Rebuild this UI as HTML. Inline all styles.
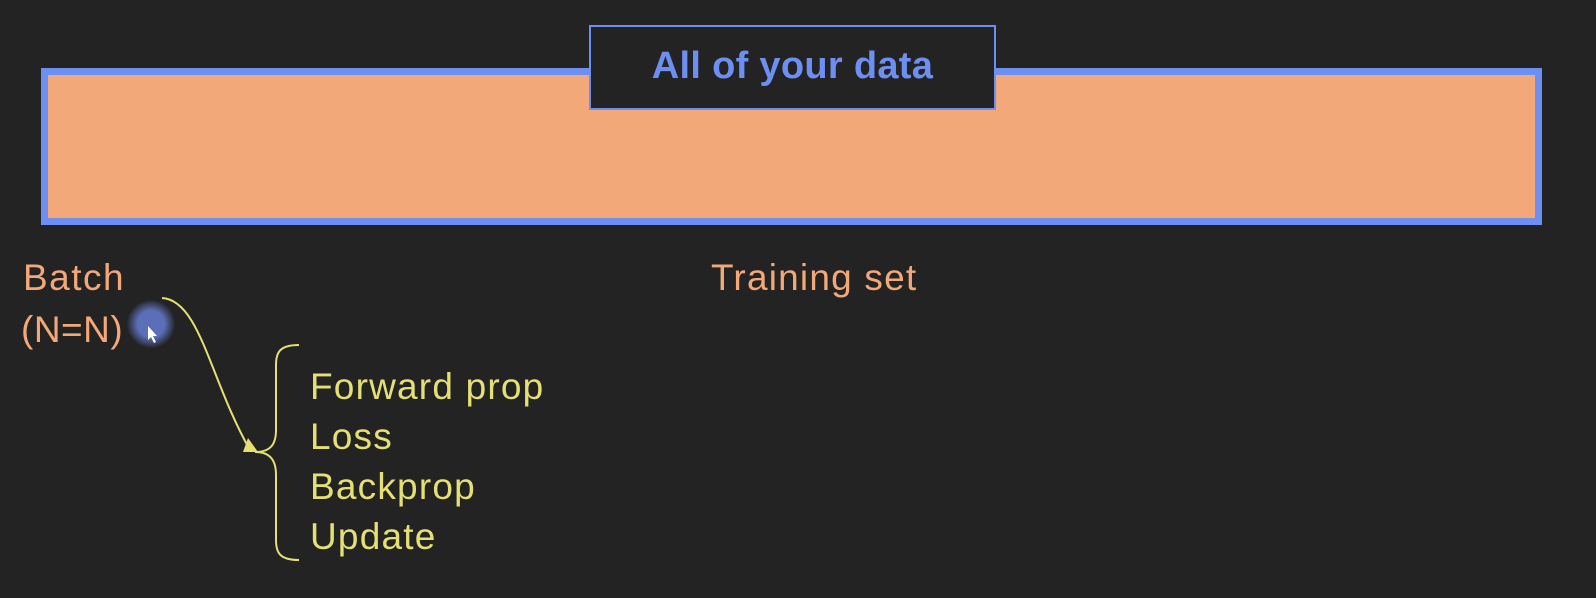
<!DOCTYPE html>
<html><head><style>
body{margin:0;width:1596px;height:598px;background:#232323;overflow:hidden;position:relative;font-family:"Liberation Sans",sans-serif}
.t{position:absolute;white-space:nowrap;line-height:1}
</style></head><body>
<div style="position:absolute;left:41px;top:68px;width:1487px;height:143px;border:7px solid #6e8ff2;background:#f2a879"></div>
<div style="position:absolute;left:589px;top:25px;width:403px;height:81px;border:2px solid #6e8ff2;background:#232323"></div>
<div class="t" style="left:589px;top:47px;width:407px;text-align:center;font-size:38px;font-weight:bold;color:#6e8ff2;letter-spacing:0.3px">All of your data</div>
<div class="t" style="left:23px;top:259px;font-size:37px;color:#f2a879;letter-spacing:1.5px">Batch</div>
<div class="t" style="left:21px;top:311px;font-size:37px;color:#f2a879;letter-spacing:0.5px">(N=N)</div>
<div style="position:absolute;left:127px;top:300px;width:48px;height:48px;border-radius:50%;background:radial-gradient(circle,#5a6fb8 40%,rgba(70,90,160,0) 72%)"></div>
<div class="t" style="left:711px;top:259px;font-size:37px;color:#f2a879;letter-spacing:1.2px">Training set</div>
<div class="t" style="left:310px;top:362px;font-size:37px;color:#e4e074;line-height:50px;letter-spacing:1.2px">Forward prop<br>Loss<br>Backprop<br>Update</div>
<svg width="1596" height="598" style="position:absolute;left:0;top:0">
<path d="M162 298 C200 300 210 380 250 450" fill="none" stroke="#e4e074" stroke-width="2"/>
<polygon points="243,452 258,452 248,438" fill="#e4e074"/>
<path d="M299 345 C280 345 276 352 276 365 L276 430 C276 445 270 452 255 452 C270 452 276 460 276 475 L276 540 C276 553 280 560 299 560" fill="none" stroke="#e4e074" stroke-width="2"/>
<path d="M148 326 l0 14 l3 -3 l3 6 l2 -1 l-3 -6 l4 0z" fill="#fff"/>
</svg>
</body></html>
